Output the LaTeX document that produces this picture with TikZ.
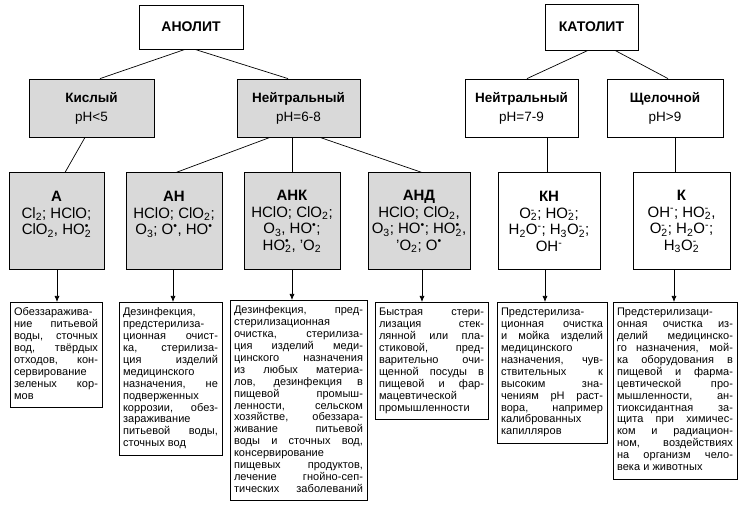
\documentclass[tikz,border=0pt]{standalone}
\usepackage{fontspec}
\setmainfont{Liberation Sans}
\newfontfamily\bodyfont{Liberation Sans}[LetterSpace=0.5]
\usetikzlibrary{arrows.meta,calc}
\hbadness=10000 \hfuzz=20pt
\setlength\parindent{0pt}
\definecolor{boxgray}{gray}{0.85}
\newcommand\chdn[1]{\textsubscript{#1}}
\newcommand\chup[1]{\textsuperscript{#1}}
\newcommand\chud[2]{\rlap{\textsuperscript{#1}}\textsubscript{#2}}
\newcommand\rad{\textsuperscript{\textbullet}}
\newcommand\jl[1]{\hbox to\hsize{\strut #1}}
\newcommand\lastln[1]{\hbox{\strut #1}}
\newcommand\descvbox[2]{\vbox{\hsize=#1\relax #2}}
\tikzset{
  topbox/.style={draw, line width=0.8pt, align=center, inner sep=0pt, font=\fontsize{14}{16}\selectfont\bfseries},
  phbox/.style={draw, line width=0.8pt, align=center, inner sep=0pt, minimum height=58pt, font=\fontsize{13.5}{19}\selectfont},
  chembox/.style={draw, line width=1pt, align=center, inner sep=0pt, minimum height=97pt, font=\fontsize{15}{16.5}\selectfont},
  grayed/.style={fill=boxgray},
  desc/.style={draw, line width=1pt, anchor=north, inner xsep=4pt, inner ysep=5pt, font=\bodyfont\fontsize{11}{11.9}\selectfont},
  conn/.style={line width=0.7pt},
  arr/.style={line width=0.7pt, -{Latex[length=6pt,width=5pt]}}
}
\begin{document}
\begin{tikzpicture}[x=1pt,y=-1pt]
\useasboundingbox (0,0) rectangle (740,508);
\fill[white] (0,0) rectangle (740,508);
% top
\node[topbox, minimum width=104pt, minimum height=44pt] (anolit) at (191,27) {АНОЛИТ};
\node[topbox, minimum width=93pt, minimum height=46pt] (katolit) at (591.5,27) {КАТОЛИТ};
% pH row
\node[phbox, grayed, minimum width=125pt] (kis) at (91.5,108) {\textbf{Кислый}\\pH<5};
\node[phbox, grayed, minimum width=123pt] (nA) at (298.5,108) {\textbf{Нейтральный}\\pH=6-8};
\node[phbox, minimum width=113pt] (nK) at (521.5,108) {\textbf{Нейтральный}\\pH=7-9};
\node[phbox, minimum width=116pt] (sh) at (665,108) {\textbf{Щелочной}\\pH>9};
% chem row
\node[chembox, grayed, minimum width=95pt] (a) at (56.5,221.5) {\textbf{А}\\Cl\chdn{2}; HClO;\\ClO\chdn{2}, HO\chud{\textbullet}{2}\\\mbox{}};
\node[chembox, grayed, minimum width=96pt] (an) at (174,221.5) {\textbf{АН}\\HClO; ClO\chdn{2};\\O\chdn{3}; O\rad, HO\rad\\\mbox{}};
\node[chembox, grayed, minimum width=96pt] (ank) at (292,221.5) {\textbf{АНК}\\HClO; ClO\chdn{2};\\O\chdn{3}, HO\rad;\\HO\chud{\textbullet}{2}, 'O\chdn{2}};
\node[chembox, grayed, minimum width=102pt] (and) at (419,221.5) {\textbf{АНД}\\HClO; ClO\chdn{2},\\O\chdn{3}; HO\rad; HO\chud{\textbullet}{2},\\'O\chdn{2}; O\rad};
\node[chembox, minimum width=102pt] (kn) at (549,221.5) {\textbf{КН}\\O\chud{-}{2}; HO\chud{-}{2};\\H\chdn{2}O\chup{-}; H\chdn{3}O\chud{-}{2};\\OH\chup{-}};
\node[chembox, minimum width=97pt] (k) at (681.5,221.5) {\textbf{К}\\OH\chup{-}; HO\chud{-}{2},\\O\chud{-}{2}; H\chdn{2}O\chup{-};\\H\chdn{3}O\chud{-}{2}};
% description boxes
\node[desc] (d1) at (56,302) {\descvbox{84pt}{\jl{Обеззаражива-}\jl{ние питьевой}\jl{воды, сточных}\jl{вод, твёрдых}\jl{отходов, кон-}\jl{сервирование}\jl{зеленых кор-}\lastln{мов}}};
\node[desc] (d2) at (170.5,302) {\descvbox{95pt}{\jl{Дезинфекция,}\jl{предстерилиза-}\jl{ционная очист-}\jl{ка, стерилиза-}\jl{ция изделий}\jl{медицинского}\jl{назначения, не}\jl{подверженных}\jl{коррозии, обез-}\jl{зараживание}\jl{питьевой воды,}\lastln{сточных вод}}};
\node[desc] (d3) at (298.5,300) {\descvbox{129pt}{\jl{Дезинфекция, пред-}\jl{стерилизационная}\jl{очистка, стерилиза-}\jl{ция изделий меди-}\jl{цинского назначения}\jl{из любых материа-}\jl{лов, дезинфекция в}\jl{пищевой промыш-}\jl{ленности, сельском}\jl{хозяйстве, обеззара-}\jl{живание питьевой}\jl{воды и сточных вод,}\jl{консервирование}\jl{пищевых продуктов,}\jl{лечение гнойно-сеп-}\jl{тических заболеваний}}};
\node[desc] (d4) at (431.5,302) {\descvbox{105pt}{\jl{Быстрая стери-}\jl{лизация стек-}\jl{лянной или пла-}\jl{стиковой, пред-}\jl{варительно очи-}\jl{щенной посуды в}\jl{пищевой и фар-}\jl{мацевтической}\lastln{промышленности}}};
\node[desc] (d5) at (552,302) {\descvbox{102pt}{\jl{Предстерилиза-}\jl{ционная очистка}\jl{и мойка изделий}\jl{медицинского}\jl{назначения, чув-}\jl{ствительных к}\jl{высоким зна-}\jl{чениям pH раст-}\jl{вора, например}\jl{калиброванных}\lastln{капилляров}}};
\node[desc] (d6) at (675,302) {\descvbox{116pt}{\jl{Предстерилизаци-}\jl{онная очистка из-}\jl{делий медицинско-}\jl{го назначения, мой-}\jl{ка оборудования в}\jl{пищевой и фарма-}\jl{цевтической про-}\jl{мышленности, ан-}\jl{тиоксидантная за-}\jl{щита при химичес-}\jl{ком и радиацион-}\jl{ном, воздействиях}\jl{на организм чело-}\lastln{века и животных}}};
% connectors
\draw[conn] ($(anolit.south)+(-6,0)$) -- ($(kis.north)+(8.5,0)$);
\draw[conn] ($(anolit.south)+(4,0)$) -- ($(nA.north)+(-10.5,0)$);
\draw[conn] ($(katolit.south)+(-3.5,0)$) -- ($(nK.north)+(5.5,0)$);
\draw[conn] ($(katolit.south)+(23.5,0)$) -- ($(sh.north)+(3,0)$);
\draw[conn] ($(kis.south)+(-6.5,0)$) -- ($(a.north)+(8.5,0)$);
\draw[conn] ($(nA.south)+(-28.5,0)$) -- ($(an.north)+(2,0)$);
\draw[conn] ($(nA.south)+(-6.5,0)$) -- (ank.north);
\draw[conn] ($(nA.south)+(21.5,0)$) -- ($(and.north)+(3,0)$);
\draw[conn] ($(nK.south)+(25.5,0)$) -- ($(kn.north)+(-2,0)$);
\draw[conn] ($(sh.south)+(10,0)$) -- ($(k.north)+(-6.5,0)$);
% arrows
\draw[arr] ($(a.south)+(0.5,0)$) -- ($(d1.north)+(1,0)$);
\draw[arr] ($(an.south)+(-1,0)$) -- ($(d2.north)+(2.5,0)$);
\draw[arr] (ank.south) -- ($(d3.north)+(-6.5,0)$);
\draw[arr] ($(and.south)+(3,0)$) -- ($(d4.north)+(-9.5,0)$);
\draw[arr] ($(kn.south)+(-4,0)$) -- ($(d5.north)+(-7,0)$);
\draw[arr] ($(k.south)+(-7.5,0)$) -- ($(d6.north)+(-1,0)$);
\end{tikzpicture}
\end{document}
